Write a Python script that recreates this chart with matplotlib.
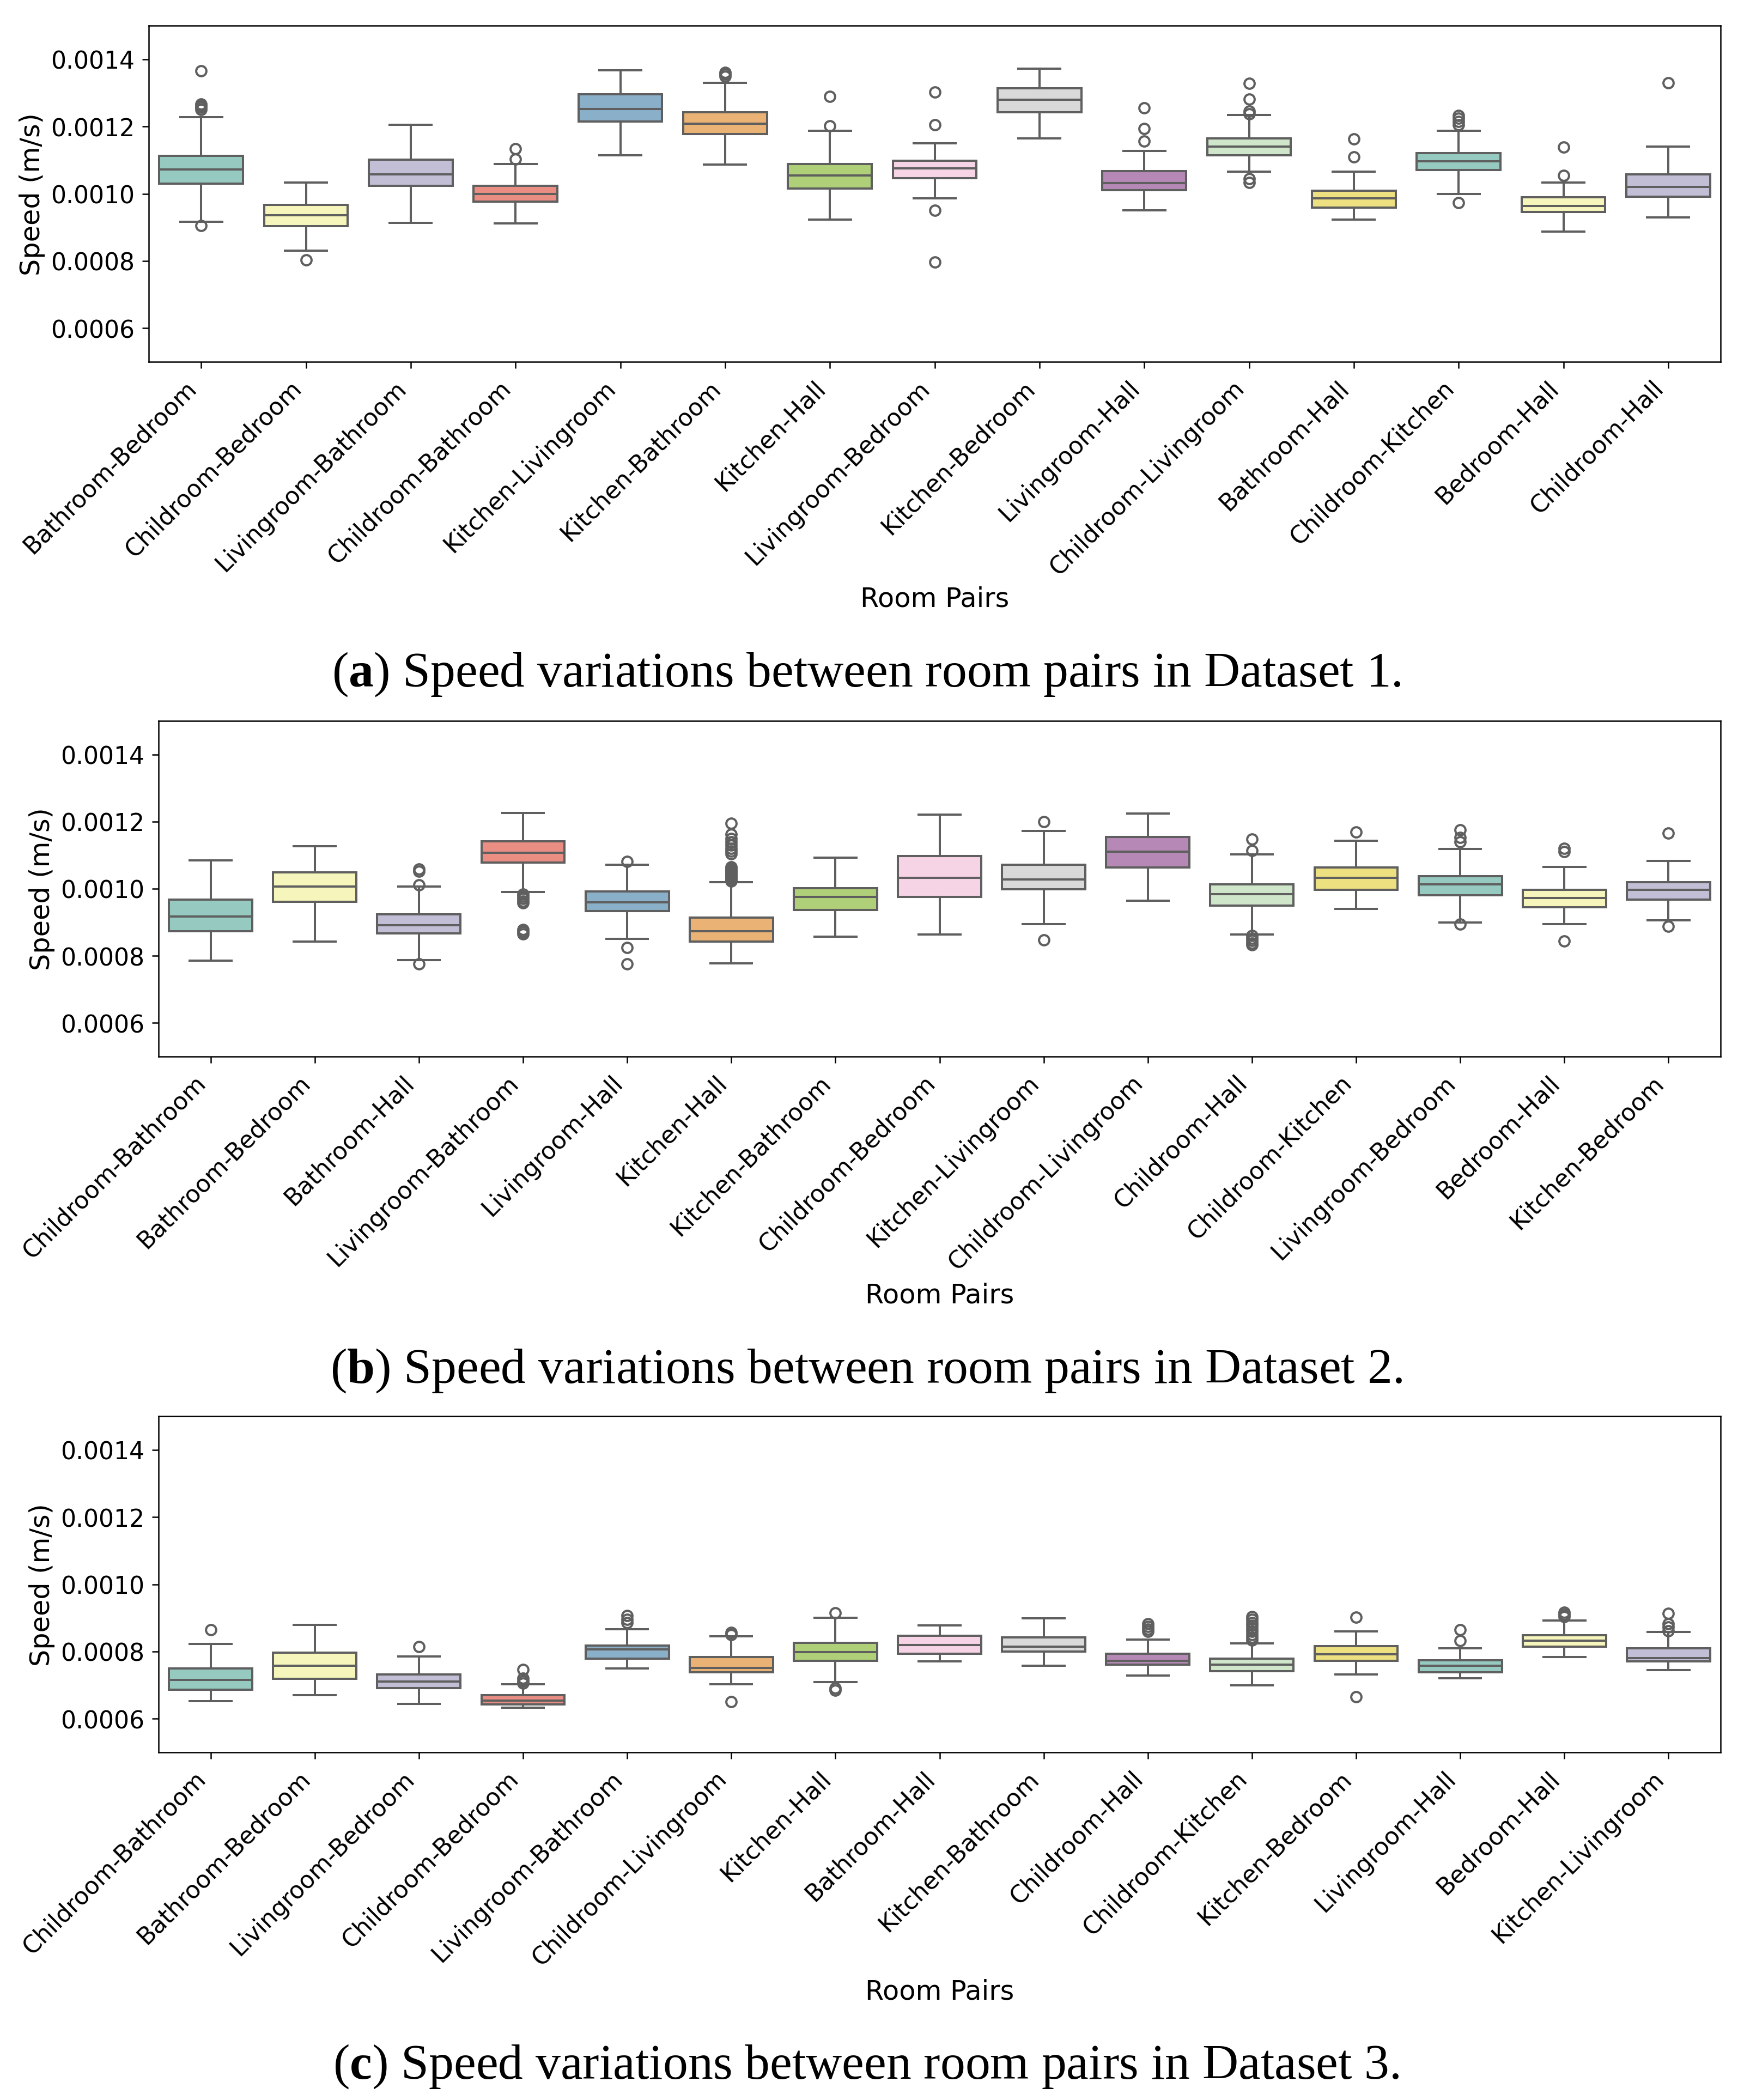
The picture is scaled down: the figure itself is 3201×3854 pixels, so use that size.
import numpy as np
import matplotlib
matplotlib.use("Agg")
import matplotlib.pyplot as plt
import colorsys
from matplotlib.colors import to_rgb
from matplotlib.ticker import FormatStrFormatter

plt.rcParams['font.family'] = ['DejaVu Sans']
plt.rcParams['mathtext.fontset'] = 'custom'
plt.rcParams['mathtext.rm'] = 'Liberation Serif'
plt.rcParams['mathtext.bf'] = 'Liberation Serif:bold'

# ---------------- Data (values in 1e-3 m/s) ----------------
labels1 = ["Bathroom-Bedroom", "Childroom-Bedroom", "Livingroom-Bathroom", "Childroom-Bathroom",
           "Kitchen-Livingroom", "Kitchen-Bathroom", "Kitchen-Hall", "Livingroom-Bedroom",
           "Kitchen-Bedroom", "Livingroom-Hall", "Childroom-Livingroom", "Bathroom-Hall",
           "Childroom-Kitchen", "Bedroom-Hall", "Childroom-Hall"]
q1_1 = [1.030, 0.903, 1.024, 0.977, 1.215, 1.178, 1.016, 1.047, 1.242, 1.010, 1.115, 0.959, 1.071, 0.946, 0.991]
med_1 = [1.072, 0.936, 1.058, 1.000, 1.252, 1.208, 1.055, 1.076, 1.279, 1.031, 1.140, 0.987, 1.097, 0.963, 1.020]
q3_1 = [1.112, 0.966, 1.102, 1.023, 1.296, 1.243, 1.089, 1.098, 1.314, 1.068, 1.165, 1.009, 1.120, 0.989, 1.058]
lo_1 = [0.917, 0.830, 0.914, 0.911, 1.114, 1.087, 0.923, 0.987, 1.164, 0.950, 1.066, 0.923, 1.000, 0.887, 0.929]
hi_1 = [1.228, 1.034, 1.205, 1.089, 1.367, 1.330, 1.188, 1.150, 1.372, 1.128, 1.234, 1.066, 1.187, 1.033, 1.140]
fl_1 = [[1.365, 1.266, 1.262, 1.257, 1.250, 0.905], [0.803], [], [1.133, 1.103], [],
        [1.360, 1.355, 1.350], [1.289, 1.201], [1.302, 1.205, 0.950, 0.797], [],
        [1.255, 1.194, 1.157], [1.328, 1.281, 1.245, 1.237, 1.045, 1.034], [1.163, 1.109],
        [1.233, 1.225, 1.215, 1.205, 0.973], [1.139, 1.055], [1.330]]

labels2 = ["Childroom-Bathroom", "Bathroom-Bedroom", "Bathroom-Hall", "Livingroom-Bathroom",
           "Livingroom-Hall", "Kitchen-Hall", "Kitchen-Bathroom", "Childroom-Bedroom",
           "Kitchen-Livingroom", "Childroom-Livingroom", "Childroom-Hall", "Childroom-Kitchen",
           "Livingroom-Bedroom", "Bedroom-Hall", "Kitchen-Bedroom"]
q1_2 = [0.874, 0.961, 0.867, 1.078, 0.933, 0.842, 0.936, 0.976, 0.999, 1.063, 0.950, 0.996, 0.980, 0.944, 0.967]
med_2 = [0.918, 1.006, 0.891, 1.107, 0.960, 0.874, 0.976, 1.032, 1.028, 1.111, 0.983, 1.032, 1.013, 0.973, 0.997]
q3_2 = [0.967, 1.049, 0.923, 1.142, 0.992, 0.914, 1.001, 1.097, 1.072, 1.154, 1.013, 1.064, 1.038, 0.996, 1.020]
lo_2 = [0.785, 0.843, 0.788, 0.991, 0.850, 0.777, 0.857, 0.863, 0.895, 0.964, 0.863, 0.940, 0.900, 0.895, 0.906]
hi_2 = [1.085, 1.127, 1.006, 1.226, 1.072, 1.020, 1.093, 1.221, 1.172, 1.224, 1.103, 1.143, 1.119, 1.065, 1.082]
fl_2 = [[], [], [1.058, 1.052, 1.012, 0.776],
        [0.984, 0.978, 0.970, 0.963, 0.957, 0.878, 0.871, 0.866],
        [1.081, 0.825, 0.776],
        [1.194, 1.162, 1.150, 1.140, 1.130, 1.120, 1.112, 1.104, 1.065, 1.060, 1.056, 1.052,
         1.048, 1.044, 1.040, 1.036, 1.032, 1.028, 1.025, 1.022],
        [], [], [1.200, 0.848], [], [1.147, 1.113, 0.860, 0.852, 0.845, 0.838, 0.832],
        [1.169], [1.176, 1.152, 1.140, 0.894], [1.120, 1.110, 0.844], [1.166, 0.888]]

labels3 = ["Childroom-Bathroom", "Bathroom-Bedroom", "Livingroom-Bedroom", "Childroom-Bedroom",
           "Livingroom-Bathroom", "Childroom-Livingroom", "Kitchen-Hall", "Bathroom-Hall",
           "Kitchen-Bathroom", "Childroom-Hall", "Childroom-Kitchen", "Kitchen-Bedroom",
           "Livingroom-Hall", "Bedroom-Hall", "Kitchen-Livingroom"]
q1_3 = [0.687, 0.719, 0.692, 0.643, 0.778, 0.739, 0.772, 0.794, 0.800, 0.761, 0.742, 0.772, 0.739, 0.814, 0.771]
med_3 = [0.716, 0.758, 0.711, 0.654, 0.806, 0.751, 0.799, 0.820, 0.815, 0.773, 0.761, 0.792, 0.758, 0.832, 0.781]
q3_3 = [0.749, 0.796, 0.731, 0.670, 0.818, 0.784, 0.825, 0.847, 0.842, 0.794, 0.779, 0.816, 0.774, 0.849, 0.809]
lo_3 = [0.652, 0.670, 0.645, 0.633, 0.750, 0.702, 0.709, 0.770, 0.757, 0.729, 0.700, 0.731, 0.721, 0.783, 0.744]
hi_3 = [0.823, 0.880, 0.785, 0.702, 0.867, 0.846, 0.901, 0.877, 0.898, 0.835, 0.824, 0.859, 0.809, 0.892, 0.858]
fl_3 = [[0.864], [], [0.815], [0.746, 0.720, 0.712, 0.706], [0.906, 0.896, 0.885],
        [0.857, 0.850, 0.651], [0.915, 0.692, 0.685], [], [], [0.882, 0.875, 0.866, 0.860],
        [0.903, 0.895, 0.886, 0.877, 0.868, 0.859, 0.850, 0.842, 0.834], [0.902, 0.666],
        [0.864, 0.832], [0.917, 0.910, 0.903], [0.913, 0.883, 0.872, 0.862]]

captions = ["a", "b", "c"]
yticks = [0.0006, 0.0008, 0.0010, 0.0012, 0.0014]

# ---------------- Style ----------------
set3 = ["#8dd3c7", "#ffffb3", "#bebada", "#fb8072", "#80b1d3", "#fdb462",
        "#b3de69", "#fccde5", "#d9d9d9", "#bc80bd", "#ccebc5", "#ffed6f"]

def desat(c, p=0.75):
    h, l, s = colorsys.rgb_to_hls(*to_rgb(c))
    return colorsys.hls_to_rgb(h, l, s * p)

colors = [desat(set3[i % 12]) for i in range(15)]
LINE = "#5f5f5f"
LW = 2.9

W, H = 3201, 3855
fig = plt.figure(figsize=(W / 100, H / 100), dpi=100)

def axes_px(l, t, r, b):
    return fig.add_axes([l / W, 1 - b / H, (r - l) / W, (b - t) / H])

panels = [
    (labels1, q1_1, med_1, q3_1, lo_1, hi_1, fl_1, (273, 48, 3158, 665), 1100, 1260),
    (labels2, q1_2, med_2, q3_2, lo_2, hi_2, fl_2, (291, 1324, 3158, 1940), 2378, 2538),
    (labels3, q1_3, med_3, q3_3, lo_3, hi_3, fl_3, (291, 2600, 3158, 3217), 3656, 3815),
]

for k, (labs, q1, med, q3, lo, hi, fl, box, xl_y, cap_y) in enumerate(panels):
    ax = axes_px(*box)
    stats = []
    for i in range(len(labs)):
        stats.append(dict(label=labs[i], q1=q1[i] * 1e-3, med=med[i] * 1e-3, q3=q3[i] * 1e-3,
                          whislo=lo[i] * 1e-3, whishi=hi[i] * 1e-3,
                          fliers=np.array(fl[i]) * 1e-3))
    bp = ax.bxp(stats, positions=np.arange(len(labs)), widths=0.8, capwidths=0.4,
                patch_artist=True, showfliers=True,
                boxprops=dict(edgecolor=LINE, linewidth=LW),
                medianprops=dict(color=LINE, linewidth=LW),
                whiskerprops=dict(color=LINE, linewidth=LW),
                capprops=dict(color=LINE, linewidth=LW),
                flierprops=dict(marker='o', markerfacecolor='none', markeredgecolor=LINE,
                                markersize=13.5, markeredgewidth=LW, linestyle='none'))
    for patch, c in zip(bp['boxes'], colors):
        patch.set_facecolor(c)
    ax.set_xlim(-0.5, len(labs) - 0.5)
    ax.set_ylim(0.0005, 0.0015)
    ax.set_yticks(yticks)
    ax.yaxis.set_major_formatter(FormatStrFormatter('%.4f'))
    ax.set_xticks(np.arange(len(labs)))
    ax.set_xticklabels(labs, rotation=45, ha='right', rotation_mode='default')
    ax.tick_params(axis='both', labelsize=31.7, length=8.6, width=1.8, pad=10)
    for sp in ax.spines.values():
        sp.set_linewidth(1.8)
    ax.set_ylabel("Speed (m/s)", fontsize=35.5, labelpad=7)
    ax.set_xlabel("Room Pairs", fontsize=35.5)
    ax.xaxis.label.set_va('center')
    bottom = box[3]
    ax.xaxis.set_label_coords(0.5, -(xl_y - bottom) / (box[3] - box[1]))
    fig.text(1590 / W, 1 - cap_y / H,
             r"($\mathbf{%s}$) Speed variations between room pairs in Dataset %d." % (captions[k], k + 1),
             ha='center', va='baseline', fontsize=66, family='Liberation Serif')

fig.savefig("out.png", dpi=100)
